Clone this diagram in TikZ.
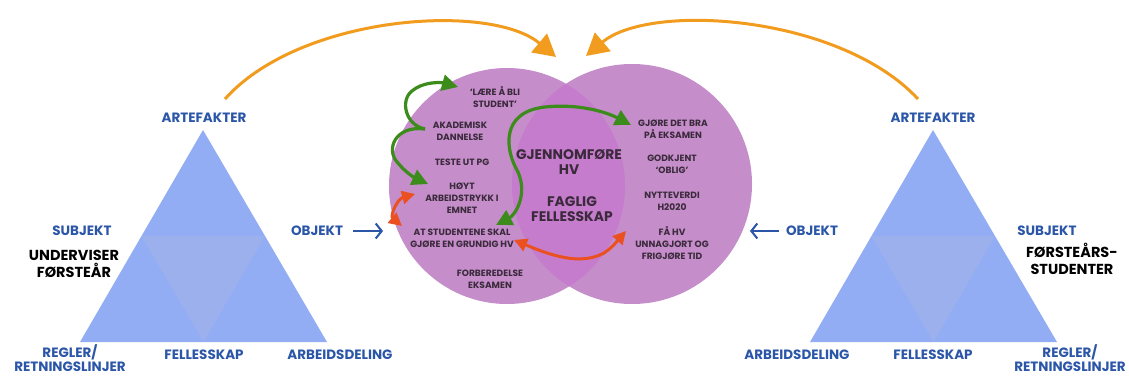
\documentclass[tikz,border=0pt]{standalone}
\usepackage{fontspec}
\setmainfont{Poppins}
\usetikzlibrary{arrows.meta}
\definecolor{triOut}{HTML}{93ADF5}
\definecolor{triIn}{HTML}{9BB0EC}
\definecolor{circC}{HTML}{C58DC9}
\definecolor{lensC}{HTML}{C67CCC}
\definecolor{lblBlue}{HTML}{2B56A8}
\definecolor{txtDark}{HTML}{3A2A3C}
\definecolor{arrOrange}{HTML}{F29C1F}
\definecolor{arrGreen}{HTML}{3C8C1C}
\definecolor{arrRed}{HTML}{EA5020}
\tikzset{
  bluelbl/.style={text=lblBlue, font=\bfseries\fontsize{13.5}{14}\selectfont, align=center, inner sep=0pt},
  subjlbl/.style={text=black, font=\bfseries\fontsize{14.5}{17}\selectfont, align=center, inner sep=0pt},
  circtxt/.style={text=txtDark, font=\bfseries\fontsize{9.1}{12}\selectfont, align=center, inner sep=0pt},
  bigtxt/.style={text=txtDark, font=\bfseries\fontsize{13.9}{15}\selectfont, align=center, inner sep=0pt},
  orangearr/.style={draw=arrOrange, line width=3pt, -{Triangle[length=22pt,width=24pt]}},
  greenarr/.style={draw=arrGreen, line width=3.2pt, -{Triangle[length=16pt,width=16pt]}},
  greendbl/.style={draw=arrGreen, line width=3.2pt, {Triangle[length=16pt,width=16pt]}-{Triangle[length=16pt,width=16pt]}},
  reddbl/.style={draw=arrRed, line width=3pt, {Triangle[length=13pt,width=13pt]}-{Triangle[length=13pt,width=13pt]}},
  bluearr/.style={draw=lblBlue, line width=2pt, -{Straight Barb[length=6pt,width=15pt,line width=2pt]}},
}
\begin{document}
\begin{tikzpicture}[x=1pt,y=-1pt]
\useasboundingbox (0,0) rectangle (1129,377);

% activity triangles
\fill[triOut] (203,130) -- (327,342) -- (80,342) -- cycle;
\fill[triIn] (141.5,236) -- (265,236) -- (203.5,342) -- cycle;
\fill[triOut] (933,130) -- (1057,342) -- (810,342) -- cycle;
\fill[triIn] (871.5,236) -- (995,236) -- (933.5,342) -- cycle;

% overlapping object circles
\fill[circC] (507,186) circle[radius=118pt];
\fill[circC] (632,184) circle[radius=120pt];
\begin{scope}
  \clip (507,186) circle[radius=118pt];
  \fill[lensC] (632,184) circle[radius=120pt];
\end{scope}

% left triangle labels
\node[bluelbl] (artL) at (204,118) {ARTEFAKTER};
\node[bluelbl] (subL) at (82,231) {SUBJEKT};
\node[subjlbl] (undL) at (74,264) {UNDERVISER\\FØRSTEÅR};
\node[bluelbl] (objL) at (317,231) {OBJEKT};
\node[bluelbl] (regL) at (70,358.5) {REGLER/\\RETNINGSLINJER};
\node[bluelbl] (felL) at (204,355) {FELLESSKAP};
\node[bluelbl] (arbL) at (340,355) {ARBEIDSDELING};

% right triangle labels
\node[bluelbl] (artR) at (933,118) {ARTEFAKTER};
\node[bluelbl] (objR) at (812,231) {OBJEKT};
\node[bluelbl] (subR) at (1047,231) {SUBJEKT};
\node[subjlbl] (stuR) at (1072,259) {FØRSTEÅRS-\\STUDENTER};
\node[bluelbl] (arbR) at (797,355) {ARBEIDSDELING};
\node[bluelbl] (felR) at (933,355) {FELLESSKAP};
\node[bluelbl] (regR) at (1070,358.5) {REGLER/\\RETNINGSLINJER};

% left circle texts
\node[circtxt] (laere) at (495,97.5) {‘LÆRE Å BLI\\STUDENT’};
\node[circtxt] (akad) at (460,131) {AKADEMISK\\DANNELSE};
\node[circtxt] (teste) at (462,162) {TESTE UT PG};
\node[circtxt] (hoyt) at (462,198) {HØYT\\ARBEIDSTRYKK I\\EMNET};
\node[circtxt] (grundig) at (462,238) {AT STUDENTENE SKAL\\GJØRE EN GRUNDIG HV};
\node[circtxt] (forb) at (490,279.5) {FORBEREDELSE\\EKSAMEN};

% shared texts in the overlap
\node[bigtxt] (gjenn) at (569,162.5) {GJENNOMFØRE\\HV};
\node[bigtxt] (faglig) at (572,209) {FAGLIG\\FELLESSKAP};

% right circle texts
\node[circtxt] (bra) at (673,129) {GJØRE DET BRA\\PÅ EKSAMEN};
\node[circtxt] (godk) at (672,164.5) {GODKJENT\\‘OBLIG’};
\node[circtxt] (nytte) at (672,201) {NYTTEVERDI\\H2020};
\node[circtxt] (faahv) at (672,243.5) {FÅ HV\\UNNAGJORT OG\\FRIGJØRE TID};

% connector end points
\coordinate (oL0) at (225,99);
\coordinate (oL1) at (556,57);
\coordinate (oR0) at (918,99);
\coordinate (oR1) at (586,56);
\coordinate (gA) at (425,129);
\coordinate (gLaere) at (458,87);
\coordinate (gHoyt) at (428,184);
\coordinate (gBig0) at (496,225);
\coordinate (gBig1) at (631,125);
\coordinate (rS0) at (415,194);
\coordinate (rS1) at (402,226);
\coordinate (rL0) at (514,240);
\coordinate (rL1) at (626,231);
\coordinate (bL0) at (353,231);
\coordinate (bL1) at (383,231);
\coordinate (bR0) at (779,231);
\coordinate (bR1) at (750,231);

% orange arrows from the artefacts
\draw[orangearr] (oL0) .. controls (300,15) and (490,2) .. (oL1);
\draw[orangearr] (oR0) .. controls (840,15) and (650,2) .. (oR1);

% green arrows
\draw[greenarr] (gA) .. controls (405,125) and (400,100) .. (412,91) .. controls (422,82) and (440,82) .. (gLaere);
\draw[greenarr] (gA) .. controls (395,125) and (385,150) .. (398,163) .. controls (405,172) and (415,178) .. (gHoyt);
\draw[greendbl] (gBig0) .. controls (515,215) and (528,195) .. (518,172) .. controls (505,150) and (500,112) .. (545,107) .. controls (585,103) and (612,115) .. (gBig1);

% red two-way arrows
\draw[reddbl] (rS0) .. controls (397,199) and (390,216) .. (rS1);
\draw[reddbl] (rL0) .. controls (550,255) and (580,266) .. (604,253) .. controls (613,247) and (618,240) .. (rL1);

% blue object arrows
\draw[bluearr] (bL0) -- (bL1);
\draw[bluearr] (bR0) -- (bR1);
\end{tikzpicture}
\end{document}
